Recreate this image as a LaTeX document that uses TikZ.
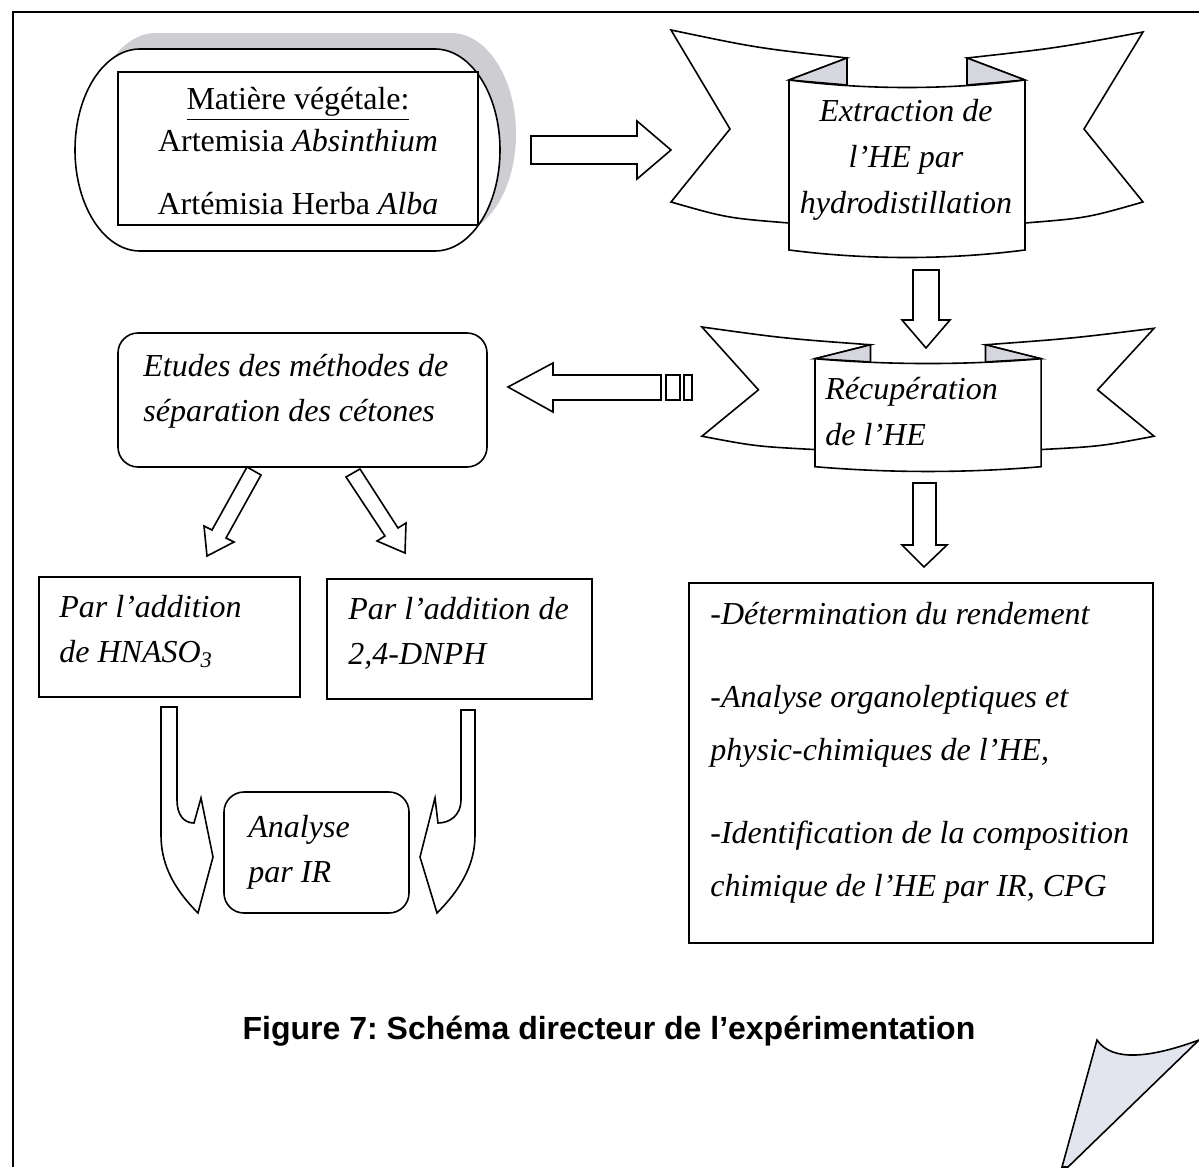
\documentclass[tikz,border=0pt]{standalone}
\usepackage{fontspec}
\setmainfont{Liberation Serif}
\newfontfamily\figcapfont{Liberation Sans}

\definecolor{foldgray}{RGB}{214,214,222}
\definecolor{shadowgray}{RGB}{205,205,210}
\definecolor{curlgray}{RGB}{226,228,238}

\tikzstyle{plain_box} = [rectangle, draw=black, fill=white, line width=0.8pt, inner sep=0pt]
\tikzstyle{round_box} = [plain_box, rounded corners=10pt]
\tikzstyle{text_block} = [inner sep=0pt, align=left, font=\fontsize{16}{22.5}\selectfont\itshape]
\tikzstyle{block_arrow} = [draw=black, fill=white, line width=0.8pt, line join=miter]

\tikzset{
  ribbon/.pic={
    % wings
    \draw[block_arrow] (-236,0) .. controls (-150,18) .. (-60,28) -- (-118,50) -- (-118,193) .. controls (-180,188) .. (-236,172) -- (-177,99) -- cycle;
    \draw[block_arrow] (236,2) .. controls (150,18) .. (60,28) -- (118,50) -- (118,193) .. controls (180,188) .. (236,172) -- (177,99) -- cycle;
    % folds
    \draw[block_arrow, fill=foldgray] (-60,28) -- (-118,50) -- (-60,55) -- cycle;
    \draw[block_arrow, fill=foldgray] (60,28) -- (118,50) -- (60,55) -- cycle;
    % front panel
    \draw[block_arrow] (-118,50) .. controls (-40,60) and (40,60) .. (118,50) -- (118,220) .. controls (40,230) and (-40,230) .. (-118,220) -- cycle;
  }
}

\begin{document}
\begin{tikzpicture}[x=0.5pt, y=-0.5pt]

    \useasboundingbox (0,0) rectangle (1199,1167);

    % Frame and page curl
    \draw[line width=0.9pt] (13,1167) -- (13,12) -- (1199,12);
    \draw[block_arrow, fill=curlgray] (1097,1040) .. controls (1112,1062) and (1150,1058) .. (1199,1040) -- (1068,1167) -- (1062,1167) -- cycle;

    % Plant material
    \fill[shadowgray, shift={(16,-16)}] (140,49) -- (435,49) arc[start angle=-90, end angle=90, x radius=65, y radius=101] -- (140,251) arc[start angle=90, end angle=270, x radius=65, y radius=101] -- cycle;
    \draw[block_arrow] (140,49) -- (435,49) arc[start angle=-90, end angle=90, x radius=65, y radius=101] -- (140,251) arc[start angle=90, end angle=270, x radius=65, y radius=101] -- cycle;
    \node (matbox) [plain_box, minimum width=180pt, minimum height=76.5pt] at (298,148.5) {};
    \node (matiere) [text_block, anchor=north, align=center, font=\fontsize{16}{21}\selectfont] at (298,87) {\underline{Matière végétale:}\\Artemisia \textit{Absinthium}\\[10.5pt]Artémisia Herba \textit{Alba}};

    % Ribbons
    \pic at (907,30) {ribbon};
    \pic[xscale=0.958, yscale=0.635] at (928,327) {ribbon};
    \node (extraction) [text_block, anchor=north, align=center, font=\fontsize{16}{23}\selectfont\itshape] at (906,99) {Extraction de\\l’HE par\\hydrodistillation};
    \node (recuperation) [text_block, anchor=north west, font=\fontsize{16}{23}\selectfont\itshape] at (825,377) {Récupération\\de l’HE};

    % Boxes
    \node (etbox) [round_box, minimum width=184.5pt, minimum height=67pt] at (302.5,400) {};
    \node (etudes) [text_block, anchor=north west] at (143,354) {Etudes des méthodes de\\séparation des cétones};

    \node (hnabox) [plain_box, minimum width=130.5pt, minimum height=60pt] at (169.5,637) {};
    \node (hnaso) [text_block, anchor=north west, font=\fontsize{16}{22.5}\selectfont\itshape] at (59,595) {Par l’addition\\de HNASO\textsubscript{3}};

    \node (dnpbox) [plain_box, minimum width=132.5pt, minimum height=60pt] at (459.5,639) {};
    \node (dnph) [text_block, anchor=north west, font=\fontsize{16}{22.5}\selectfont\itshape] at (348,597) {Par l’addition de\\2,4-DNPH};

    \node (irbox) [round_box, minimum width=92.5pt, minimum height=60.5pt] at (316.5,852.5) {};
    \node (analyse) [text_block, anchor=north west] at (248,815) {Analyse\\par IR};

    \node (rendbox) [plain_box, minimum width=232pt, minimum height=180pt] at (921,763) {};
    \node (rendement) [text_block, anchor=north west, font=\fontsize{16}{26.5}\selectfont\itshape] at (710,602) {-Détermination du rendement\\[15pt]-Analyse organoleptiques et\\physic-chimiques de l’HE,\\[15pt]-Identification de la composition\\chimique de l’HE par IR, CPG};

    % Arrows
    \draw[block_arrow] (531,136) -- (637,136) -- (637,121) -- (671,150) -- (637,179) -- (637,164) -- (531,164) -- cycle;
    \draw[block_arrow] (913,270) -- (939,270) -- (939,320) -- (950,320) -- (926,348) -- (902,320) -- (913,320) -- cycle;
    \draw[block_arrow] (913,483) -- (936,483) -- (936,545) -- (947,545) -- (924,567) -- (902,545) -- (913,545) -- cycle;

    \draw[block_arrow] (508,387) -- (553,363) -- (553,375) -- (661,375) -- (661,400) -- (553,400) -- (553,412) -- cycle;
    \draw[block_arrow] (666,375) rectangle (680,400);
    \draw[block_arrow] (684,375) rectangle (692,400);

    \draw[block_arrow] (247,467) -- (212,530) -- (204,526) -- (207,556) -- (234,542) -- (226,538) -- (261,475) -- cycle;
    \draw[block_arrow] (346,477) -- (385,536) -- (377,541) -- (405,553) -- (406,523) -- (398,528) -- (360,469) -- cycle;

    \draw[block_arrow] (161,707) -- (177,707) -- (177,800) .. controls (177,815) and (184,823) .. (194,823) -- (201,798) -- (213,857) -- (198,913) .. controls (170,885) and (161,860) .. (161,835) -- cycle;
    \draw[block_arrow] (475,710) -- (461,710) -- (461,800) .. controls (461,815) and (450,823) .. (438,823) -- (435,798) -- (420,857) -- (437,913) .. controls (465,885) and (475,860) .. (475,835) -- cycle;

    % Caption
    \node (caption) [inner sep=0pt, font=\figcapfont\bfseries\fontsize{16}{19}\selectfont\frenchspacing] at (609,1031) {Figure 7: Schéma directeur de l’expérimentation};

\end{tikzpicture}
\end{document}
